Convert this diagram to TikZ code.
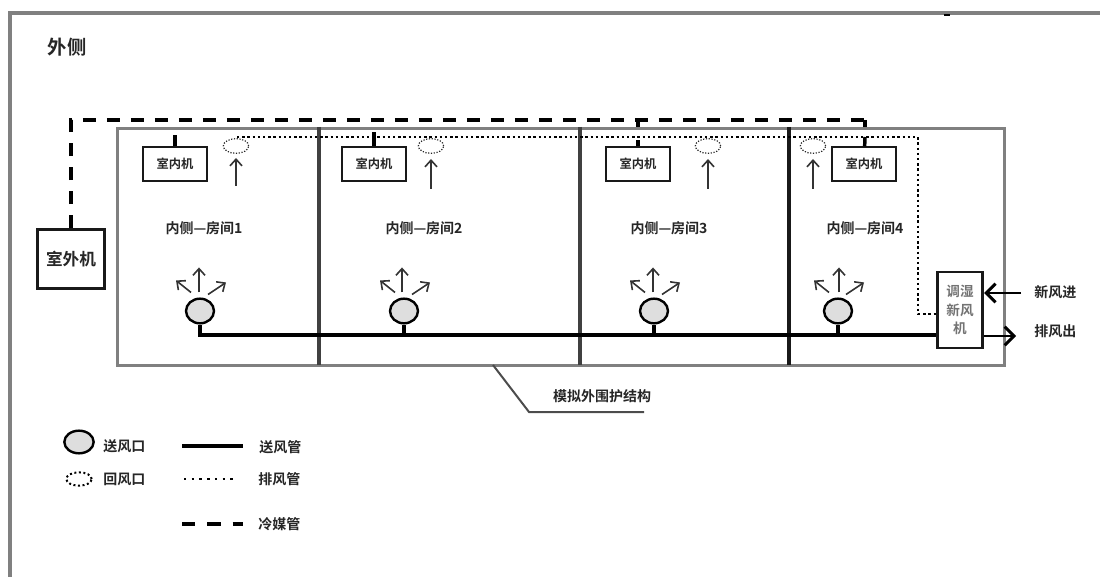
\documentclass[tikz,border=0pt]{standalone}
\usepackage{fontspec}
\setmainfont{Noto Sans CJK SC}[BoldFont={* Bold}]
\usepackage{tikz}
\usetikzlibrary{arrows.meta,shapes.geometric}
\definecolor{mur}{gray}{0.5}
\definecolor{grille}{gray}{0.87}
\definecolor{texte}{gray}{0.15}
\tikzset{
  mur/.style={draw=mur,line width=2.6pt},
  cloison/.style={draw=black!75,line width=2.3pt},
  unite/.style={draw=black!90,line width=1.6pt,minimum width=48pt,minimum height=25pt,inner sep=0pt,font=\fontsize{9.2}{10}\selectfont\bfseries,text=texte},
  etiquette/.style={inner sep=0pt,text=texte,font=\fontsize{10.5}{11}\selectfont\bfseries},
  soufflage/.style={draw=black,line width=1.8pt,fill=grille,ellipse,minimum width=21pt,minimum height=18.5pt,inner sep=0pt},
  reprise/.style={draw=black!85,line width=.9pt,dash pattern=on .9pt off 1.2pt,ellipse,minimum width=19pt,minimum height=11pt,inner sep=0pt},
  tube/.style={draw=black,line width=2.3pt},
  pointille/.style={draw=black,line width=1.8pt,dash pattern=on 1.8pt off 2.1pt},
  frigo/.style={draw=black,line width=2.6pt,dash pattern=on 10pt off 8pt},
  fleche/.style={draw=black!80,line width=1.2pt,-{Straight Barb[length=5pt,width=9pt]}},
  grosse/.style={draw=black,line width=2.2pt,-{Straight Barb[length=7pt,width=14pt]}},
}
\begin{document}
\begin{tikzpicture}[x=.75pt,y=-.75pt]
    \useasboundingbox (0,0) rectangle (1100,577);

    % Cadre exterieur
    \coordinate (cadreA) at (10,577);
    \coordinate (cadreB) at (10,13);
    \coordinate (cadreC) at (1100,13);
    \coordinate (tache) at (944,15);
    \draw[mur,line width=3pt] (cadreA) -- (cadreB) -- (cadreC);
    \draw[draw=black,line width=1.5pt] (tache) -- ++(6,0);
    \node[etiquette,font=\fontsize{14.5}{15}\selectfont\bfseries] (dehors) at (67,47) {外侧};

    % Unites interieures
    \node[unite] (int1) at (175,164) {室内机};
    \node[unite] (int2) at (374,164) {室内机};
    \node[unite] (int3) at (638,164) {室内机};
    \node[unite] (int4) at (864,164) {室内机};

    % Unite exterieure
    \node[unite,line width=2.4pt,minimum width=50pt,minimum height=44pt,font=\fontsize{12.5}{13}\selectfont\bfseries] (ext) at (71,259) {室外机};

    % Ligne frigorifique
    \coordinate (coin1) at (71,120);
    \coordinate (coin2) at (865,120);
    \coordinate (pique3) at (638,120);
    \coordinate (att1) at (175,135);
    \coordinate (att2) at (374,132);
    \coordinate (att3) at (638,140);
    \coordinate (att4) at (865,137);
    \draw[frigo] (ext) -- (coin1) -- (coin2);
    \draw[tube,line width=2.6pt] (coin2) -- ++(0,8);
    \draw[tube,line width=2.6pt] (pique3) -- ++(0,8);
    \draw[tube] (int1) -- (att1);
    \draw[tube,line width=2.6pt] (int2) -- (att2);
    \draw[tube] (int3) -- (att3);
    \draw[tube,line width=2.6pt] (int4) -- (att4);

    % Enveloppe et cloisons
    \node[mur,minimum width=665pt,minimum height=177.5pt,inner sep=0pt,anchor=north west] (enveloppe) at (116,127) {};
    \coordinate (c1h) at (319,127);
    \coordinate (c1b) at (319,365);
    \coordinate (c2h) at (580,127);
    \coordinate (c2b) at (580,365);
    \coordinate (c3h) at (789,127);
    \coordinate (c3b) at (789,365);
    \draw[cloison] (c1h) -- (c1b);
    \draw[cloison] (c2h) -- (c2b);
    \draw[cloison,draw=black!90] (c3h) -- (c3b);

    % Noms des pieces
    \node[etiquette] (piece1) at (204,228) {内侧—房间1};
    \node[etiquette] (piece2) at (424,228) {内侧—房间2};
    \node[etiquette] (piece3) at (669,228) {内侧—房间3};
    \node[etiquette] (piece4) at (865,228) {内侧—房间4};

    % Bouches de reprise
    \node[reprise] (rep1) at (236,146) {};
    \node[reprise] (rep2) at (431,146) {};
    \node[reprise] (rep3) at (708,146) {};
    \node[reprise] (rep4) at (813,146) {};
    \coordinate (sousrep1) at (236,186);
    \coordinate (sousrep2) at (431,189);
    \coordinate (sousrep3) at (708,189);
    \coordinate (sousrep4) at (813,189);
    \draw[fleche] (sousrep1) -- (236,158);
    \draw[fleche] (sousrep2) -- (431,159);
    \draw[fleche] (sousrep3) -- (708,159);
    \draw[fleche] (sousrep4) -- (813,159);

    % Bouches de soufflage
    \node[soufflage] (souf1) at (200,311) {};
    \node[soufflage] (souf2) at (404,311) {};
    \node[soufflage] (souf3) at (654,311) {};
    \node[soufflage] (souf4) at (838,311) {};

    % Fleches de soufflage
    \draw[fleche] (souf1.north) ++(-1,-5) -- ++(0,-25);
    \draw[fleche] (souf1.north) ++(-9,-5) -- ++(-15,-12);
    \draw[fleche] (souf1.north) ++(8,-3) -- ++(18,-12);
    \draw[fleche] (souf2.north) ++(-2,-5) -- ++(0,-25);
    \draw[fleche] (souf2.north) ++(-9,-5) -- ++(-15,-12);
    \draw[fleche] (souf2.north) ++(8,-3) -- ++(18,-12);
    \draw[fleche] (souf3.north) ++(-1,-5) -- ++(0,-25);
    \draw[fleche] (souf3.north) ++(-9,-5) -- ++(-15,-12);
    \draw[fleche] (souf3.north) ++(8,-3) -- ++(18,-12);
    \draw[fleche] (souf4.north) ++(1,-5) -- ++(0,-25);
    \draw[fleche] (souf4.north) ++(-9,-5) -- ++(-15,-12);
    \draw[fleche] (souf4.north) ++(8,-3) -- ++(18,-12);

    % Unite de traitement d'air
    \node[unite,line width=2.2pt,minimum width=34pt,minimum height=57pt,font=\fontsize{10.2}{14}\selectfont\bfseries,text=black!55,align=center] (cta) at (960,310) {调湿\\新风\\机};

    % Reseau de soufflage
    \coordinate (souf0) at (200,335);
    \coordinate (td2) at (404,335);
    \coordinate (td3) at (654,335);
    \coordinate (td4) at (838,335);
    \draw[tube] (souf1) -- (souf0) -- (td2 -| cta.west);
    \draw[tube] (souf2) -- (td2);
    \draw[tube] (souf3) -- (td3);
    \draw[tube] (souf4) -- (td4);

    % Reseau d'extraction
    \coordinate (ex0) at (237,137);
    \coordinate (ex1) at (918,137);
    \coordinate (ex2) at (918,314);
    \draw[pointille] (ex0) -- (ex1) -- (ex2) -- (ex2 -| cta.west);

    % Air neuf et rejet
    \node[etiquette,anchor=west] (neuf) at (1034,292) {新风进};
    \node[etiquette,anchor=west] (rejet) at (1034,331) {排风出};
    \coordinate (neufd) at (1021,293);
    \coordinate (rejetf) at (1016,336);
    \draw[grosse] (neufd) -- (neufd -| cta.east);
    \draw[grosse] (rejetf -| cta.east) -- (rejetf);

    % Renvoi
    \coordinate (renvoiA) at (493,365);
    \coordinate (renvoiB) at (529,412);
    \coordinate (renvoiC) at (644,412);
    \draw[draw=black!70,line width=1.5pt] (renvoiA) -- (renvoiB) -- (renvoiC);
    \node[etiquette] (structure) at (602,396) {模拟外围护结构};

    % Legende
    \node[soufflage,minimum width=22pt,minimum height=17pt] (legs) at (79,442) {};
    \node[etiquette,anchor=west] (legst) at (103,446) {送风口};
    \node[reprise,draw=black,line width=1.5pt,dash pattern=on 1.5pt off 1.9pt,minimum height=10pt] (legr) at (79,479) {};
    \node[etiquette,anchor=west] (legrt) at (103,479) {回风口};
    \node[etiquette,anchor=west] (tubet) at (259,447) {送风管};
    \node[etiquette,anchor=west] (extt) at (258,479) {排风管};
    \node[etiquette,anchor=west] (frigt) at (258,524) {冷媒管};
    \coordinate (tube0) at (182,446);
    \coordinate (ext0) at (184,479);
    \coordinate (frig0) at (182,524);
    \draw[tube,line width=2.6pt] (tube0) -- (tube0 -| 243,0);
    \draw[pointille,dash pattern=on 1.8pt off 4pt] (ext0) -- (ext0 -| 238,0);
    \draw[frigo,dash pattern=on 10pt off 9pt] (frig0) -- (frig0 -| 243,0);
\end{tikzpicture}
\end{document}
